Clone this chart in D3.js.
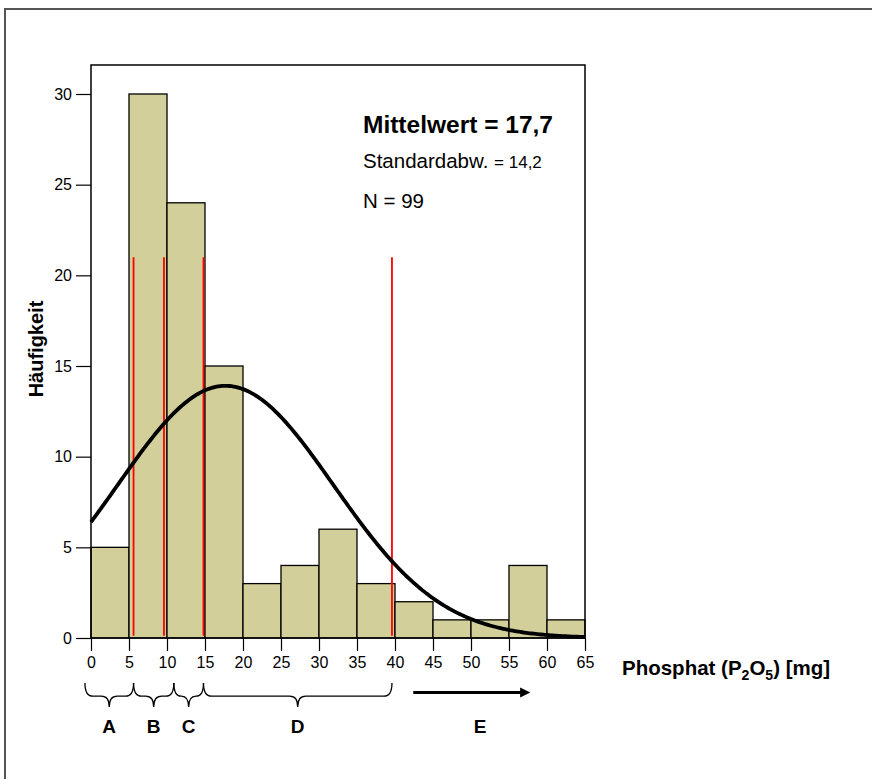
<!DOCTYPE html>
<html>
<head>
<meta charset="utf-8">
<script src="https://cdn.jsdelivr.net/npm/d3@7"></script>
<style>
  html, body { margin: 0; padding: 0; background: #fff; }
  svg { display: block; font-family: "Liberation Sans", Arial, sans-serif; }
</style>
</head>
<body>
<svg id="chart" width="872" height="779"></svg>
<script>
// Histogram bins (lower edges, width 5 mg) and counts
const binStarts = [0, 5, 10, 15, 20, 25, 30, 35, 40, 45, 50, 55, 60];
const binWidth = 5;
const counts = [5, 30, 24, 15, 3, 4, 6, 3, 2, 1, 1, 4, 1];

// Summary statistics shown in the panel
const meanValue = 17.7;
const sdValue = 14.2;
const nValue = 99;

// Axis ticks
const xTicks = [0, 5, 10, 15, 20, 25, 30, 35, 40, 45, 50, 55, 60, 65];
const yTicks = [0, 5, 10, 15, 20, 25, 30];

// Class boundaries (red markers) and their height
const classMarks = [5.6, 9.6, 14.8, 39.6];
const classMarkTop = 21;

// Class braces below the axis: [from, to, label]
const braceFrom = [-0.8, 5.6, 10.9, 14.8];
const braceTo = [5.6, 10.9, 14.8, 39.6];
const braceLabels = ["A", "B", "C", "D"];
// Open-ended class E (arrow)
const arrowFrom = 42.4, arrowTo = 56.6;
const arrowLabel = "E";

const FONT = "Liberation Sans, Arial, sans-serif";
const svg = d3.select("#chart");

// outer frame (left and top edges)
svg.append("path")
  .attr("d", "M5,779 L5,9 L872,9")
  .attr("fill", "none").attr("stroke", "#555").attr("stroke-width", 2);

const x = d3.scaleLinear().domain([0, 65]).range([91, 585]);
const y = d3.scaleLinear().domain([0, 30]).range([638, 94]);
const plotTop = 65;

// bars
svg.append("g").selectAll("rect")
  .data(binStarts.map((s, i) => ({ s, c: counts[i] })))
  .join("rect")
  .attr("x", d => x(d.s))
  .attr("y", d => y(d.c))
  .attr("width", d => x(d.s + binWidth) - x(d.s))
  .attr("height", d => y(0) - y(d.c))
  .attr("fill", "#d3cf9a")
  .attr("stroke", "#000")
  .attr("stroke-width", 1.3);

// red class markers
svg.append("g").selectAll("line")
  .data(classMarks)
  .join("line")
  .attr("x1", d => x(d)).attr("x2", d => x(d))
  .attr("y1", y(classMarkTop)).attr("y2", y(0.12))
  .attr("stroke", "#ff0000").attr("stroke-width", 1.8);

// fitted normal curve from the stated mean, sd and N
const curveX = d3.range(0, 65.01, 0.25);
const normal = v => nValue * binWidth / (sdValue * Math.sqrt(2 * Math.PI)) *
  Math.exp(-0.5 * Math.pow((v - meanValue) / sdValue, 2));
svg.append("path")
  .datum(curveX)
  .attr("d", d3.line().x(d => x(d)).y(d => y(normal(d))))
  .attr("fill", "none").attr("stroke", "#000").attr("stroke-width", 3.8)
  .attr("stroke-linejoin", "round");

// plot frame
svg.append("path")
  .attr("d", `M${x(0)},${y(0)} L${x(0)},${plotTop} L${x(65)},${plotTop} L${x(65)},${y(0)} Z`)
  .attr("fill", "none").attr("stroke", "#000").attr("stroke-width", 1.5);

// y axis
const yAxis = svg.append("g")
  .attr("transform", `translate(${x(0)},0)`)
  .call(d3.axisLeft(y).tickValues(yTicks).tickSize(15).tickPadding(4).tickFormat(d3.format("d")));
yAxis.attr("font-size", 16).attr("font-family", FONT);
yAxis.select(".domain").remove();
yAxis.selectAll("line").attr("stroke", "#000").attr("stroke-width", 1.2);
yAxis.selectAll("text").attr("fill", "#000");

// x axis
const xAxis = svg.append("g")
  .attr("transform", `translate(0,${y(0)})`)
  .call(d3.axisBottom(x).tickValues(xTicks).tickSize(13).tickPadding(6).tickFormat(d3.format("d")));
xAxis.attr("font-size", 16).attr("font-family", FONT);
xAxis.select(".domain").remove();
xAxis.selectAll("line").attr("stroke", "#000").attr("stroke-width", 1.2);
xAxis.selectAll("text").attr("fill", "#000");

// axis titles
svg.append("text")
  .attr("transform", "translate(43,349) rotate(-90)")
  .attr("text-anchor", "middle")
  .attr("font-weight", "bold").attr("font-size", 20)
  .text("Häufigkeit");

const xt = svg.append("text")
  .attr("x", 622).attr("y", 675)
  .attr("font-weight", "bold").attr("font-size", 20.5);
xt.append("tspan").text("Phosphat (P");
xt.append("tspan").attr("font-size", 14).attr("dy", 5).text("2");
xt.append("tspan").attr("dy", -5).text("O");
xt.append("tspan").attr("font-size", 14).attr("dy", 5).text("5");
xt.append("tspan").attr("dy", -5).text(") [mg]");

// statistics panel
svg.append("text")
  .attr("x", 363).attr("y", 133)
  .attr("font-weight", "bold").attr("font-size", 24.5)
  .text(`Mittelwert = ${d3.format(".1f")(meanValue).replace(".", ",")}`);
const sdText = svg.append("text").attr("x", 363).attr("y", 168).attr("font-size", 20.5);
sdText.append("tspan").text("Standardabw. ");
sdText.append("tspan").attr("font-size", 17).text(`= ${d3.format(".1f")(sdValue).replace(".", ",")}`);
svg.append("text")
  .attr("x", 363).attr("y", 208).attr("font-size", 20.5)
  .text(`N = ${nValue}`);

// curly braces for classes A–D
function bracePath(x0, x1, yTop, depth) {
  const xm = (x0 + x1) / 2;
  const ym = yTop + depth * 0.55;
  const r = Math.min(8, (x1 - x0) / 4);
  return `M${x0},${yTop} Q${x0},${ym} ${x0 + r},${ym} L${xm - r},${ym} ` +
    `Q${xm},${ym} ${xm},${yTop + depth} Q${xm},${ym} ${xm + r},${ym} ` +
    `L${x1 - r},${ym} Q${x1},${ym} ${x1},${yTop}`;
}
const braceG = svg.append("g");
braceFrom.forEach((f, i) => {
  const x0 = x(f), x1 = x(braceTo[i]);
  braceG.append("path")
    .attr("d", bracePath(x0, x1, 683, 24))
    .attr("fill", "none").attr("stroke", "#000").attr("stroke-width", 1.3);
  braceG.append("text")
    .attr("x", (x0 + x1) / 2).attr("y", 733)
    .attr("text-anchor", "middle")
    .attr("font-weight", "bold").attr("font-size", 19)
    .text(braceLabels[i]);
});

// arrow for open class E
svg.append("defs").append("marker")
  .attr("id", "arrowhead")
  .attr("viewBox", "0 0 10 10").attr("refX", 1).attr("refY", 5)
  .attr("markerWidth", 3.8).attr("markerHeight", 3.4)
  .attr("markerUnits", "strokeWidth")
  .attr("orient", "auto")
  .append("path").attr("d", "M0,0 L10,5 L0,10 Z").attr("fill", "#000");
svg.append("line")
  .attr("x1", x(arrowFrom)).attr("x2", x(arrowTo))
  .attr("y1", 692.5).attr("y2", 692.5)
  .attr("stroke", "#000").attr("stroke-width", 3)
  .attr("marker-end", "url(#arrowhead)");
svg.append("text")
  .attr("x", 480).attr("y", 733)
  .attr("text-anchor", "middle")
  .attr("font-weight", "bold").attr("font-size", 19)
  .text(arrowLabel);
</script>
</body>
</html>
